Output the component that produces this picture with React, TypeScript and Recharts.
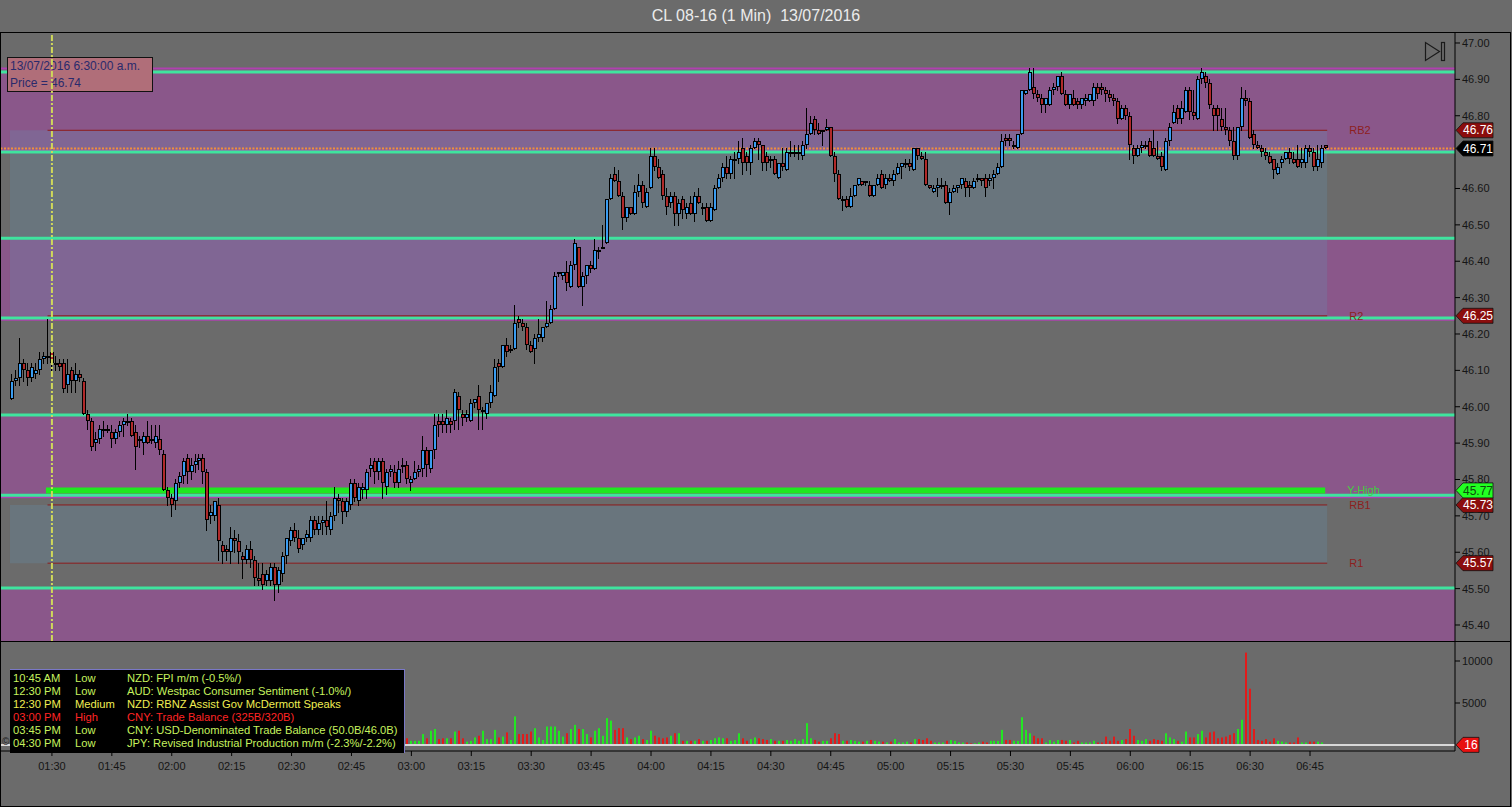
import React from 'react';
import { ComposedChart, Bar, XAxis, YAxis, ReferenceLine, ReferenceArea } from 'recharts';

// one bar per minute, first bar at 01:20
const FIRST_MINUTE = 80;

const opens = [
  46.02, 46.07, 46.08, 46.12, 46.10, 46.08, 46.09, 46.10, 46.13, 46.14,
  46.15, 46.12, 46.12, 46.12, 46.06, 46.10, 46.07, 46.09, 46.07, 45.98,
  45.96, 45.90, 45.91, 45.94, 45.94, 45.93, 45.91, 45.93, 45.95, 45.96,
  45.96, 45.93, 45.91, 45.90, 45.92, 45.91, 45.90, 45.91, 45.87, 45.77,
  45.75, 45.74, 45.79, 45.81, 45.86, 45.82, 45.84, 45.85, 45.86, 45.82,
  45.70, 45.70, 45.73, 45.62, 45.61, 45.60, 45.64, 45.63, 45.59, 45.58,
  45.61, 45.58, 45.53, 45.54, 45.52, 45.52, 45.56, 45.51, 45.54, 45.59,
  45.63, 45.66, 45.64, 45.62, 45.64, 45.64, 45.69, 45.66, 45.68, 45.69,
  45.66, 45.70, 45.75, 45.74, 45.71, 45.73, 45.79, 45.74, 45.77, 45.77,
  45.83, 45.85, 45.82, 45.85, 45.78, 45.82, 45.82, 45.79, 45.84, 45.84,
  45.79, 45.80, 45.82, 45.83, 45.88, 45.83, 45.88, 45.96, 45.96, 45.95,
  45.96, 45.96, 46.03, 45.98, 45.97, 45.96, 46.01, 46.03, 45.99, 45.98,
  46.01, 46.03, 46.12, 46.11, 46.17, 46.16, 46.16, 46.24, 46.23, 46.22,
  46.17, 46.16, 46.19, 46.19, 46.22, 46.23, 46.27, 46.37, 46.36, 46.37,
  46.33, 46.39, 46.44, 46.33, 46.36, 46.39, 46.38, 46.43, 46.44, 46.45,
  46.57, 46.64, 46.62, 46.58, 46.52, 46.55, 46.53, 46.59, 46.61, 46.55,
  46.60, 46.69, 46.66, 46.64, 46.58, 46.56, 46.58, 46.53, 46.57, 46.53,
  46.56, 46.53, 46.58, 46.55, 46.55, 46.51, 46.54, 46.60, 46.63, 46.66,
  46.64, 46.68, 46.68, 46.71, 46.69, 46.67, 46.71, 46.73, 46.72, 46.69,
  46.68, 46.68, 46.63, 46.67, 46.65, 46.70, 46.70, 46.70, 46.69, 46.72,
  46.75, 46.79, 46.76, 46.76, 46.76, 46.77, 46.69, 46.64, 46.57, 46.57,
  46.55, 46.58, 46.61, 46.62, 46.62, 46.61, 46.58, 46.61, 46.64, 46.61,
  46.63, 46.62, 46.64, 46.66, 46.67, 46.67, 46.65, 46.71, 46.69, 46.68,
  46.61, 46.59, 46.60, 46.61, 46.61, 46.56, 46.59, 46.60, 46.61, 46.62,
  46.61, 46.60, 46.63, 46.63, 46.63, 46.62, 46.63, 46.64, 46.66, 46.74,
  46.74, 46.72, 46.71, 46.75, 46.86, 46.87, 46.88, 46.86, 46.85, 46.83,
  46.83, 46.87, 46.88, 46.91, 46.86, 46.83, 46.85, 46.84, 46.83, 46.84,
  46.84, 46.84, 46.88, 46.88, 46.87, 46.86, 46.85, 46.84, 46.79, 46.82,
  46.80, 46.71, 46.69, 46.71, 46.72, 46.73, 46.71, 46.69, 46.69, 46.65,
  46.73, 46.78, 46.82, 46.79, 46.81, 46.87, 46.81, 46.79, 46.90, 46.91,
  46.89, 46.82, 46.82, 46.79, 46.77, 46.76, 46.73, 46.69, 46.77, 46.85,
  46.84, 46.75, 46.72, 46.71, 46.70, 46.69, 46.68, 46.64, 46.67, 46.68,
  46.70, 46.68, 46.68, 46.67, 46.67, 46.71, 46.70, 46.66, 46.67, 46.72,
];

const highs = [
  46.09, 46.10, 46.19, 46.13, 46.12, 46.12, 46.12, 46.15, 46.15, 46.24,
  46.16, 46.14, 46.13, 46.13, 46.13, 46.11, 46.12, 46.10, 46.08, 45.99,
  45.97, 45.93, 45.95, 45.96, 45.95, 45.95, 45.94, 45.96, 45.97, 45.98,
  45.97, 45.95, 45.92, 45.93, 45.96, 45.95, 45.95, 45.95, 45.88, 45.78,
  45.76, 45.80, 45.82, 45.86, 45.87, 45.86, 45.87, 45.87, 45.87, 45.83,
  45.73, 45.74, 45.75, 45.63, 45.62, 45.67, 45.66, 45.65, 45.60, 45.62,
  45.63, 45.59, 45.57, 45.57, 45.55, 45.57, 45.57, 45.56, 45.60, 45.64,
  45.67, 45.68, 45.66, 45.64, 45.66, 45.70, 45.70, 45.70, 45.70, 45.74,
  45.71, 45.78, 45.76, 45.75, 45.75, 45.80, 45.80, 45.79, 45.79, 45.83,
  45.86, 45.86, 45.86, 45.86, 45.83, 45.84, 45.84, 45.85, 45.86, 45.85,
  45.81, 45.85, 45.84, 45.92, 45.89, 45.88, 45.98, 45.98, 45.98, 45.99,
  45.97, 46.05, 46.04, 45.99, 45.99, 46.02, 46.02, 46.06, 46.00, 46.01,
  46.06, 46.13, 46.13, 46.17, 46.19, 46.17, 46.28, 46.25, 46.24, 46.23,
  46.18, 46.20, 46.24, 46.22, 46.29, 46.28, 46.37, 46.37, 46.37, 46.40,
  46.40, 46.46, 46.44, 46.37, 46.39, 46.40, 46.46, 46.44, 46.50, 46.57,
  46.64, 46.66, 46.65, 46.59, 46.55, 46.55, 46.61, 46.64, 46.62, 46.60,
  46.71, 46.71, 46.68, 46.65, 46.60, 46.59, 46.59, 46.57, 46.58, 46.56,
  46.58, 46.59, 46.60, 46.56, 46.56, 46.56, 46.61, 46.64, 46.67, 46.69,
  46.69, 46.70, 46.73, 46.74, 46.70, 46.72, 46.74, 46.74, 46.72, 46.70,
  46.69, 46.69, 46.67, 46.71, 46.71, 46.73, 46.72, 46.72, 46.73, 46.82,
  46.80, 46.80, 46.78, 46.76, 46.79, 46.77, 46.70, 46.65, 46.58, 46.58,
  46.60, 46.61, 46.63, 46.62, 46.62, 46.62, 46.61, 46.64, 46.65, 46.64,
  46.64, 46.65, 46.67, 46.67, 46.68, 46.68, 46.71, 46.71, 46.70, 46.70,
  46.61, 46.61, 46.63, 46.63, 46.62, 46.60, 46.61, 46.61, 46.63, 46.63,
  46.62, 46.63, 46.64, 46.63, 46.64, 46.64, 46.65, 46.67, 46.75, 46.75,
  46.75, 46.73, 46.75, 46.87, 46.87, 46.93, 46.93, 46.87, 46.86, 46.85,
  46.88, 46.89, 46.91, 46.92, 46.87, 46.86, 46.87, 46.85, 46.85, 46.86,
  46.86, 46.89, 46.89, 46.89, 46.88, 46.87, 46.86, 46.85, 46.83, 46.83,
  46.81, 46.72, 46.72, 46.73, 46.73, 46.74, 46.76, 46.73, 46.70, 46.74,
  46.78, 46.83, 46.83, 46.84, 46.88, 46.88, 46.87, 46.91, 46.93, 46.92,
  46.90, 46.83, 46.83, 46.82, 46.82, 46.77, 46.77, 46.77, 46.88, 46.87,
  46.85, 46.76, 46.73, 46.72, 46.71, 46.70, 46.68, 46.67, 46.69, 46.70,
  46.71, 46.70, 46.72, 46.71, 46.72, 46.72, 46.71, 46.72, 46.72, 46.72,
];

const lows = [
  46.02, 46.06, 46.06, 46.07, 46.06, 46.07, 46.08, 46.09, 46.12, 46.12,
  46.10, 46.10, 46.10, 46.04, 46.04, 46.04, 46.04, 46.07, 45.98, 45.94,
  45.88, 45.88, 45.90, 45.92, 45.93, 45.89, 45.90, 45.92, 45.92, 45.95,
  45.92, 45.83, 45.89, 45.87, 45.90, 45.90, 45.89, 45.87, 45.77, 45.73,
  45.70, 45.72, 45.78, 45.79, 45.79, 45.80, 45.82, 45.83, 45.79, 45.66,
  45.68, 45.69, 45.58, 45.57, 45.58, 45.57, 45.60, 45.57, 45.53, 45.57,
  45.56, 45.51, 45.51, 45.50, 45.51, 45.51, 45.47, 45.49, 45.52, 45.57,
  45.62, 45.63, 45.60, 45.61, 45.63, 45.63, 45.65, 45.65, 45.65, 45.65,
  45.65, 45.69, 45.71, 45.68, 45.70, 45.72, 45.74, 45.73, 45.75, 45.75,
  45.81, 45.79, 45.80, 45.75, 45.76, 45.81, 45.78, 45.78, 45.82, 45.79,
  45.77, 45.80, 45.81, 45.81, 45.81, 45.82, 45.86, 45.92, 45.93, 45.93,
  45.93, 45.94, 45.94, 45.95, 45.96, 45.96, 46.00, 45.94, 45.94, 45.97,
  46.00, 46.03, 46.07, 46.11, 46.14, 46.15, 46.16, 46.22, 46.21, 46.16,
  46.15, 46.12, 46.18, 46.18, 46.22, 46.23, 46.27, 46.36, 46.35, 46.32,
  46.33, 46.38, 46.33, 46.28, 46.34, 46.37, 46.38, 46.41, 46.44, 46.45,
  46.57, 46.62, 46.58, 46.49, 46.51, 46.53, 46.53, 46.58, 46.55, 46.55,
  46.60, 46.65, 46.63, 46.57, 46.53, 46.55, 46.50, 46.50, 46.52, 46.52,
  46.53, 46.51, 46.56, 46.53, 46.51, 46.51, 46.54, 46.60, 46.62, 46.63,
  46.63, 46.63, 46.67, 46.64, 46.65, 46.64, 46.71, 46.68, 46.65, 46.65,
  46.66, 46.64, 46.63, 46.65, 46.65, 46.69, 46.69, 46.68, 46.68, 46.71,
  46.75, 46.75, 46.75, 46.72, 46.76, 46.69, 46.62, 46.57, 46.54, 46.55,
  46.55, 46.58, 46.61, 46.61, 46.61, 46.58, 46.58, 46.61, 46.60, 46.60,
  46.62, 46.61, 46.64, 46.63, 46.66, 46.65, 46.65, 46.68, 46.68, 46.61,
  46.60, 46.59, 46.58, 46.60, 46.56, 46.53, 46.59, 46.59, 46.60, 46.58,
  46.58, 46.60, 46.62, 46.61, 46.58, 46.61, 46.60, 46.64, 46.66, 46.72,
  46.72, 46.71, 46.71, 46.75, 46.86, 46.87, 46.85, 46.84, 46.81, 46.81,
  46.83, 46.86, 46.87, 46.86, 46.83, 46.82, 46.83, 46.82, 46.82, 46.83,
  46.84, 46.83, 46.85, 46.86, 46.84, 46.84, 46.83, 46.78, 46.79, 46.79,
  46.68, 46.67, 46.69, 46.70, 46.71, 46.69, 46.69, 46.68, 46.65, 46.65,
  46.72, 46.78, 46.78, 46.78, 46.81, 46.79, 46.79, 46.79, 46.89, 46.88,
  46.82, 46.76, 46.76, 46.76, 46.75, 46.72, 46.68, 46.68, 46.76, 46.83,
  46.74, 46.71, 46.71, 46.69, 46.68, 46.67, 46.63, 46.64, 46.66, 46.68,
  46.67, 46.67, 46.66, 46.66, 46.66, 46.69, 46.65, 46.65, 46.66, 46.71,
];

const closes = [
  46.07, 46.08, 46.12, 46.10, 46.08, 46.11, 46.10, 46.13, 46.14, 46.14,
  46.12, 46.12, 46.11, 46.05, 46.09, 46.07, 46.09, 46.08, 45.98, 45.96,
  45.89, 45.91, 45.94, 45.94, 45.94, 45.91, 45.93, 45.95, 45.96, 45.96,
  45.92, 45.89, 45.91, 45.92, 45.90, 45.91, 45.92, 45.88, 45.77, 45.75,
  45.73, 45.79, 45.81, 45.85, 45.82, 45.84, 45.85, 45.86, 45.82, 45.69,
  45.71, 45.74, 45.63, 45.60, 45.60, 45.64, 45.63, 45.60, 45.58, 45.61,
  45.58, 45.53, 45.52, 45.51, 45.54, 45.56, 45.51, 45.55, 45.59, 45.64,
  45.66, 45.64, 45.61, 45.64, 45.65, 45.69, 45.66, 45.68, 45.69, 45.67,
  45.70, 45.75, 45.74, 45.71, 45.74, 45.79, 45.75, 45.78, 45.78, 45.82,
  45.84, 45.82, 45.85, 45.79, 45.82, 45.83, 45.79, 45.83, 45.84, 45.80,
  45.80, 45.82, 45.83, 45.88, 45.84, 45.88, 45.95, 45.95, 45.95, 45.97,
  45.95, 46.04, 45.99, 45.97, 45.98, 46.01, 46.02, 45.99, 45.99, 46.01,
  46.04, 46.11, 46.11, 46.17, 46.15, 46.16, 46.23, 46.23, 46.22, 46.17,
  46.15, 46.19, 46.20, 46.22, 46.23, 46.27, 46.36, 46.37, 46.37, 46.34,
  46.39, 46.45, 46.33, 46.36, 46.39, 46.38, 46.43, 46.43, 46.44, 46.57,
  46.63, 46.62, 46.58, 46.52, 46.55, 46.53, 46.59, 46.61, 46.56, 46.59,
  46.69, 46.66, 46.63, 46.58, 46.55, 46.58, 46.53, 46.56, 46.54, 46.55,
  46.53, 46.58, 46.56, 46.55, 46.51, 46.55, 46.60, 46.63, 46.66, 46.64,
  46.68, 46.68, 46.70, 46.67, 46.67, 46.71, 46.73, 46.72, 46.67, 46.67,
  46.68, 46.64, 46.67, 46.66, 46.70, 46.70, 46.70, 46.70, 46.72, 46.75,
  46.78, 46.76, 46.75, 46.76, 46.77, 46.69, 46.64, 46.57, 46.57, 46.55,
  46.58, 46.61, 46.63, 46.61, 46.62, 46.58, 46.61, 46.63, 46.60, 46.63,
  46.62, 46.64, 46.66, 46.67, 46.67, 46.66, 46.71, 46.69, 46.68, 46.61,
  46.60, 46.60, 46.61, 46.61, 46.56, 46.59, 46.60, 46.61, 46.63, 46.60,
  46.60, 46.62, 46.63, 46.62, 46.60, 46.63, 46.64, 46.66, 46.73, 46.73,
  46.73, 46.72, 46.75, 46.87, 46.87, 46.92, 46.86, 46.85, 46.83, 46.85,
  46.87, 46.88, 46.91, 46.86, 46.83, 46.86, 46.83, 46.83, 46.85, 46.85,
  46.86, 46.88, 46.86, 46.87, 46.86, 46.85, 46.84, 46.79, 46.82, 46.80,
  46.72, 46.69, 46.71, 46.72, 46.72, 46.69, 46.69, 46.68, 46.66, 46.73,
  46.77, 46.81, 46.79, 46.82, 46.87, 46.81, 46.80, 46.90, 46.92, 46.89,
  46.83, 46.80, 46.80, 46.77, 46.76, 46.73, 46.69, 46.77, 46.85, 46.84,
  46.74, 46.72, 46.71, 46.70, 46.69, 46.67, 46.65, 46.66, 46.68, 46.70,
  46.68, 46.67, 46.66, 46.68, 46.71, 46.70, 46.66, 46.68, 46.71, 46.71,
];

const volumes = [
  900, 700, 1500, 800, 700, 600, 500, 700, 500, 1900,
  1200, 600, 500, 1400, 1000, 900, 800, 500, 1700, 900,
  1500, 800, 700, 500, 400, 700, 600, 700, 600, 400,
  900, 1300, 500, 700, 800, 600, 700, 900, 2000, 1200,
  1100, 1300, 1000, 1000, 900, 700, 600, 600, 900, 1900,
  800, 700, 2000, 1000, 800, 1200, 600, 800, 1000, 700,
  800, 1200, 600, 900, 600, 700, 1500, 800, 1100, 1200,
  900, 600, 800, 500, 400, 1100, 700, 500, 500, 800,
  700, 1400, 500, 800, 700, 1300, 900, 800, 500, 1100,
  700, 800, 900, 1200, 900, 500, 700, 900, 500, 800,
  500, 500, 500, 1300, 800, 1700, 1900, 700, 800, 800,
  800, 1600, 1700, 800, 400, 500, 900, 1100, 1700, 700,
  700, 1800, 900, 1000, 1500, 600, 3400, 1300, 1300, 1300,
  1600, 2000, 900, 600, 2200, 2200, 2200, 1700, 1000, 1400,
  1900, 2400, 1900, 1900, 1300, 900, 1700, 2000, 1100, 3200,
  2900, 1800, 2000, 2000, 900, 700, 900, 1100, 700, 600,
  1700, 1100, 900, 800, 900, 1100, 1400, 1400, 500, 500,
  500, 500, 700, 500, 500, 600, 800, 900, 800, 800,
  500, 600, 1400, 800, 500, 700, 900, 800, 700, 600,
  700, 500, 500, 500, 600, 500, 700, 500, 700, 2600,
  800, 600, 400, 500, 500, 800, 1400, 1300, 500, 500,
  600, 500, 400, 400, 500, 600, 500, 400, 400, 300,
  400, 700, 300, 300, 400, 300, 700, 700, 600, 800,
  500, 300, 300, 300, 500, 600, 500, 300, 300, 300,
  200, 200, 300, 400, 300, 500, 500, 500, 1800, 600,
  600, 500, 500, 3300, 1800, 1400, 1100, 800, 800, 300,
  600, 400, 600, 600, 500, 600, 300, 500, 300, 300,
  300, 500, 300, 300, 1000, 500, 1000, 500, 600, 700,
  1900, 1100, 600, 500, 700, 500, 700, 600, 500, 1400,
  900, 700, 500, 400, 1600, 900, 900, 1300, 1700, 900,
  1500, 1600, 800, 900, 1000, 1200, 1400, 1900, 3000, 11000,
  6700, 1900, 600, 500, 700, 400, 800, 500, 400, 300,
  300, 300, 900, 300, 300, 400, 400, 400, 300, 16,
];

// 46.70 sits under the last-price tag, so it is not listed
const priceTicks = [45.4, 45.5, 45.6, 45.7, 45.8, 45.9, 46.0, 46.1, 46.2, 46.3, 46.4, 46.5, 46.6, 46.8, 46.9, 47.0];
const volumeTicks = [5000, 10000];
const timeTicks = [90, 105, 120, 135, 150, 165, 180, 195, 210, 225, 240, 255, 270, 285, 300, 315, 330, 345, 360, 375, 390, 405];

// levels drawn on the chart
const pivotLines = [46.92, 46.7, 46.463, 46.244, 45.977, 45.757, 45.502];
const purpleBands = [[46.7, 46.925], [46.236, 46.463], [45.748, 45.977], [45.3, 45.502]];
const zoneBoxes = [[46.25, 46.76], [45.57, 45.73]];
const levelNames = ['RB2', 'R2', 'RB1', 'R1'];
const levelValues = [46.76, 46.25, 45.73, 45.57];
const yHigh = 45.77;
const lastPrice = 46.71;
const cursorMinute = 90;

const events = [
  ['10:45 AM', 'Low', 'NZD: FPI m/m (-0.5%/)', '#c6f25e'],
  ['12:30 PM', 'Low', 'AUD: Westpac Consumer Sentiment (-1.0%/)', '#c6f25e'],
  ['12:30 PM', 'Medium', 'NZD: RBNZ Assist Gov McDermott Speaks', '#f0ee52'],
  ['03:00 PM', 'High', 'CNY: Trade Balance (325B/320B)', '#ff2424'],
  ['03:45 PM', 'Low', 'CNY: USD-Denominated Trade Balance (50.0B/46.0B)', '#c6f25e'],
  ['04:30 PM', 'Low', 'JPY: Revised Industrial Production m/m (-2.3%/-2.2%)', '#c6f25e'],
];

const X_MIN = 77.25;
const X_MAX = 441.3;
const PRICE_MIN = 45.356;
const PRICE_MAX = 47.0302;
const VOL_MIN = -714;
const VOL_MAX = 12262;
const BOX_START = 79.5;
const LINE_START = 88.9;
const SERIES_END = 409.3;

const FONT = '"Liberation Sans", Arial, sans-serif';

const data = opens.map((o, i) => ({
  t: FIRST_MINUTE + i,
  o,
  h: highs[i],
  l: lows[i],
  c: closes[i],
  range: [lows[i], highs[i]],
  vol: volumes[i],
}));

const hhmm = (t: number) => `${String(Math.floor(t / 60)).padStart(2, '0')}:${String(t % 60).padStart(2, '0')}`;

function Candle(props: any) {
  const { x, y, width, height, payload } = props;
  if (!payload || x == null) return null;
  const { o, h, l, c } = payload;
  const top = Math.min(y, y + height);
  const span = Math.abs(height);
  const py = (p: number) => (h === l ? top : top + ((h - p) / (h - l)) * span);
  const left = Math.round(x + width / 2 - 2);
  const yo = py(o);
  const yc = py(c);
  const bt = Math.round(Math.min(yo, yc)) + 0.5;
  let bb = Math.round(Math.max(yo, yc)) - 0.5;
  if (bb < bt + 1) bb = bt + 1;
  const fill = c > o ? '#3a9cf0' : c < o ? '#b02a2a' : '#000';
  return (
    <g>
      <line x1={left + 1.5} x2={left + 1.5} y1={Math.round(top)} y2={Math.round(top + span) + 1} stroke="#000" strokeWidth={1} />
      <rect x={left + 0.5} y={bt} width={3} height={bb - bt} fill={fill} stroke="#000" strokeWidth={1} />
    </g>
  );
}

function VolumeBar(props: any) {
  const { x, y, width, height, payload } = props;
  if (!payload || x == null) return null;
  const top = Math.min(y, y + height);
  const h = Math.abs(height);
  const left = Math.round(x + width / 2 - 1);
  const up = payload.c >= payload.o;
  return <rect x={left} y={top} width={2} height={Math.max(h, 0.5)} fill={up ? '#22e622' : '#e21b1b'} />;
}

const axisTag = (text: string, fill: string, color: string, w = 38) => (props: any) => {
  const vb = props.viewBox || {};
  const r = (vb.x || 0) + (vb.width || 0);
  const y = vb.y || 0;
  return (
    <g>
      <polygon
        points={`${r + 1},${y} ${r + 8},${y - 7.5} ${r + w},${y - 7.5} ${r + w},${y + 7.5} ${r + 8},${y + 7.5}`}
        fill={fill}
        stroke="#111"
        strokeWidth={0.8}
      />
      <text x={r + 8 + (w - 8) / 2} y={y} dy={4.2} textAnchor="middle" fill={color} fontSize={12} fontFamily={FONT}>
        {text}
      </text>
    </g>
  );
};

const levelLabel = (text: string, color: string) => (props: any) => {
  const vb = props.viewBox || {};
  return (
    <text x={(vb.x || 0) + (vb.width || 0) + 22} y={vb.y || 0} dy={4} fill={color} fontSize={11} fontFamily={FONT}>
      {text}
    </text>
  );
};

const tickStyle = { fill: '#151515', fontSize: 11, fontFamily: FONT };

export default function App() {
  const priceMargin = { top: 0, right: 0, bottom: 0, left: 1 };
  const xProps = {
    type: 'number' as const,
    dataKey: 't',
    domain: [X_MIN, X_MAX],
    allowDataOverflow: true,
  };
  const yProps = {
    type: 'number' as const,
    domain: [PRICE_MIN, PRICE_MAX],
    allowDataOverflow: true,
    orientation: 'right' as const,
    width: 57,
  };

  return (
    <div style={{ position: 'absolute', left: 0, top: 0, width: 1512, height: 807, background: '#6b6b6b', overflow: 'hidden', fontFamily: FONT }}>
      <div style={{ position: 'absolute', left: 0, top: 7, width: 1512, textAlign: 'center', color: '#ececec', fontSize: 16, whiteSpace: 'pre' }}>
        {'CL 08-16 (1 Min)  13/07/2016'}
      </div>

      {/* background layer: zones and levels */}
      <div style={{ position: 'absolute', left: 0, top: 32 }}>
        <ComposedChart width={1512} height={609} data={data} margin={priceMargin}>
          <XAxis hide {...xProps} />
          <YAxis {...yProps} tick={false} axisLine={false} tickLine={false} />
          {purpleBands.map(([a, b], i) => (
            <ReferenceArea key={`pb${i}`} y1={Math.max(a, PRICE_MIN)} y2={b} fill="#8a578a" fillOpacity={1} stroke="none" ifOverflow="hidden" />
          ))}
          {purpleBands.map(([a], i) =>
            a > PRICE_MIN ? <ReferenceLine key={`pe${i}`} y={a + 0.004} stroke="#b040b0" strokeWidth={2} /> : null
          )}
          <ReferenceLine y={46.93} stroke="#b040b0" strokeWidth={2} />
          {zoneBoxes.map(([a, b], i) => (
            <ReferenceArea key={`zb${i}`} x1={BOX_START} x2={SERIES_END} y1={a} y2={b} fill="#6492b4" fillOpacity={0.25} stroke="none" />
          ))}
          {pivotLines.map((v, i) => (
            <ReferenceLine key={`pv${i}`} y={v} stroke="#3fe49e" strokeWidth={3} />
          ))}
          <ReferenceLine y={lastPrice} stroke="#f0903c" strokeWidth={2} strokeDasharray="2 1.5" />
          {levelValues.map((v, i) => (
            <ReferenceLine
              key={`lv${i}`}
              segment={[{ x: LINE_START, y: v }, { x: SERIES_END, y: v }]}
              stroke="#8e1b1b"
              strokeWidth={1}
              label={levelLabel(levelNames[i], '#8e1e1e')}
            />
          ))}
          <ReferenceLine
            segment={[{ x: 88.5, y: yHigh }, { x: 408.8, y: yHigh }]}
            stroke="#1fe81f"
            strokeWidth={6}
            label={levelLabel('Y-High', '#3fcf3f')}
          />
        </ComposedChart>
      </div>

      {/* price readout box */}
      <div
        style={{
          position: 'absolute', left: 7, top: 57, width: 142, height: 33, background: '#b06e79', border: '1px solid #111',
          color: '#2a2a6c', fontSize: 12, lineHeight: '17px', paddingLeft: 2, whiteSpace: 'pre',
        }}
      >
        <div>13/07/2016 6:30:00 a.m.</div>
        <div>Price = 46.74</div>
      </div>

      {/* foreground layer: candles, cursor, axis and tags */}
      <div style={{ position: 'absolute', left: 0, top: 32 }}>
        <ComposedChart width={1512} height={609} data={data} margin={priceMargin}>
          <XAxis hide {...xProps} />
          <YAxis
            {...yProps}
            ticks={priceTicks}
            interval={0}
            tickFormatter={(v: number) => v.toFixed(2)}
            tick={tickStyle}
            tickSize={5}
            tickMargin={2}
            axisLine={{ stroke: '#000' }}
            tickLine={{ stroke: '#000' }}
          />
          <ReferenceLine x={cursorMinute} stroke="#cfd85a" strokeWidth={2} strokeDasharray="6 2 2 2" />
          <Bar dataKey="range" barSize={4} shape={Candle} isAnimationActive={false} />
          {levelValues.map((v, i) => (
            <ReferenceLine key={`tg${i}`} y={v} stroke="none" label={axisTag(v.toFixed(2), '#8b0d0d', '#ffffff')} />
          ))}
          <ReferenceLine y={yHigh} stroke="none" label={axisTag(yHigh.toFixed(2), '#22ff22', '#0d4d0d')} />
          <ReferenceLine y={lastPrice} stroke="none" label={axisTag(lastPrice.toFixed(2), '#000000', '#ffffff')} />
        </ComposedChart>
      </div>

      {/* volume panel */}
      <div style={{ position: 'absolute', left: 0, top: 641 }}>
        <ComposedChart width={1512} height={140} data={data} margin={{ top: 1, right: 0, bottom: 0, left: 1 }}>
          <XAxis
            {...xProps}
            height={30}
            ticks={timeTicks}
            interval={0}
            tickFormatter={hhmm}
            tick={tickStyle}
            tickSize={5}
            tickMargin={6}
            axisLine={{ stroke: '#000' }}
            tickLine={{ stroke: '#000' }}
          />
          <YAxis
            type="number"
            domain={[VOL_MIN, VOL_MAX]}
            allowDataOverflow
            orientation="right"
            width={57}
            ticks={volumeTicks}
            interval={0}
            tick={tickStyle}
            tickSize={5}
            tickMargin={2}
            axisLine={{ stroke: '#000' }}
            tickLine={{ stroke: '#000' }}
          />
          <ReferenceLine y={0} stroke="#d8d8d8" strokeWidth={2} />
          <Bar dataKey="vol" barSize={2} shape={VolumeBar} isAnimationActive={false} />
          <ReferenceLine y={volumes[volumes.length - 1]} stroke="none" label={axisTag(String(volumes[volumes.length - 1]), '#e81010', '#ffffff', 24)} />
        </ComposedChart>
      </div>

      {/* economic events table */}
      <div
        style={{
          position: 'absolute', left: 10, top: 669, width: 394, height: 81, background: '#000', borderTop: '1px solid #7a78c8',
          borderRight: '1px solid #7a78c8', overflow: 'hidden', fontSize: 11.2, paddingTop: 2,
        }}
      >
        {events.map(([time, impact, text, color], i) => (
          <div key={i} style={{ position: 'relative', height: 13, lineHeight: '13px', color, whiteSpace: 'pre' }}>
            <span style={{ position: 'absolute', left: 3 }}>{time}</span>
            <span style={{ position: 'absolute', left: 65 }}>{impact}</span>
            <span style={{ position: 'absolute', left: 117 }}>{text}</span>
          </div>
        ))}
      </div>
      <div style={{ position: 'absolute', left: 2, top: 736, fontSize: 10, color: '#222' }}>©</div>

      {/* go-to-end button */}
      <svg style={{ position: 'absolute', left: 1422, top: 40 }} width={26} height={24}>
        <polygon points="3.5,2.5 3.5,20.5 17.5,11.5" fill="none" stroke="#1a1a1a" strokeWidth={1.2} />
        <rect x={19.5} y={2.5} width={3} height={18} fill="none" stroke="#1a1a1a" strokeWidth={1.2} />
      </svg>

      {/* panel frames */}
      <div style={{ position: 'absolute', left: 1, top: 32, width: 1510, height: 1, background: '#000' }} />
      <div style={{ position: 'absolute', left: 1, top: 641, width: 1510, height: 1, background: '#000' }} />
      <div style={{ position: 'absolute', left: 1, top: 806, width: 1510, height: 1, background: '#000' }} />
      <div style={{ position: 'absolute', left: 0, top: 32, width: 1, height: 775, background: '#000' }} />
      <div style={{ position: 'absolute', left: 1510, top: 32, width: 1, height: 775, background: '#000' }} />
    </div>
  );
}
